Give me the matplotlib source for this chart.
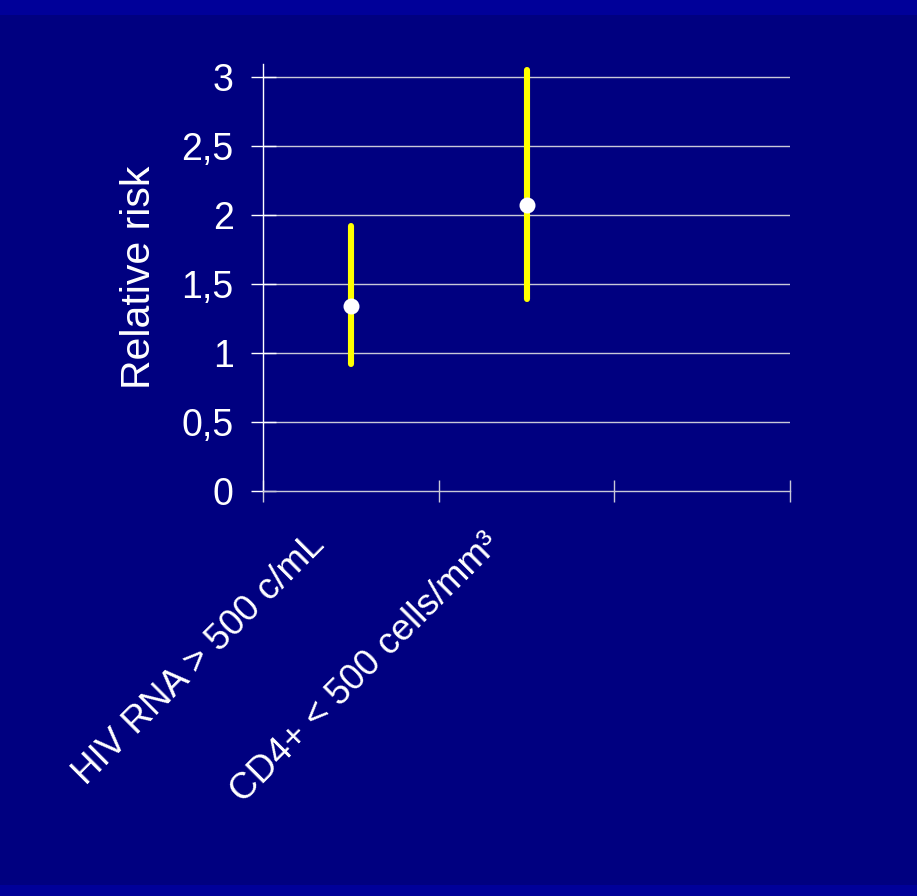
import matplotlib
matplotlib.use("Agg")
import matplotlib.pyplot as plt
from matplotlib.patches import Rectangle

# data
categories = ["HIV RNA > 500 c/mL", "CD4+ < 500 cells/mm³"]
cat_pos = [0.5, 1.5]
rr = [1.34, 2.07]
ci_low = [0.92, 1.39]
ci_high = [1.92, 3.05]
yticks = [0, 0.5, 1, 1.5, 2, 2.5, 3]
ytick_labels = ["0", "0,5", "1", "1,5", "2", "2,5", "3"]

plt.rcParams['font.family'] = ['Liberation Sans', 'DejaVu Sans']

bg = '#000080'
band = '#000099'
grid_c = '#c8c8d8'

fig = plt.figure(figsize=(9.17, 8.96), dpi=100, facecolor=bg)
# top and bottom bands of the slide
fig.patches.append(Rectangle((0, 1 - 15 / 896), 1, 15 / 896, transform=fig.transFigure,
                             facecolor=band, edgecolor='none', zorder=0))
fig.patches.append(Rectangle((0, 0), 1, 11 / 896, transform=fig.transFigure,
                             facecolor=band, edgecolor='none', zorder=0))

ax = fig.add_axes([263 / 917, 1 - 491 / 896, (790 - 263) / 917, (491 - 64) / 896])
ax.set_facecolor(bg)
ax.set_xlim(0, 3)
ax.set_ylim(0, 3 + 13 / 138)

for y in yticks[1:]:
    ax.axhline(y, color=grid_c, lw=1.0, zorder=1)

ax.vlines(cat_pos, ci_low, ci_high, colors='#ffff00', lw=4.4, capstyle='round', zorder=3)
ax.plot(cat_pos, rr, 'o', color='white', markersize=11.5, markeredgewidth=0, zorder=4)

for side in ['top', 'right']:
    ax.spines[side].set_visible(False)
ax.spines['left'].set_color('white')
ax.spines['left'].set_linewidth(1.0)
ax.spines['bottom'].set_color(grid_c)
ax.spines['bottom'].set_linewidth(1.0)

ax.set_yticks(yticks)
ax.set_yticklabels(ytick_labels)
ax.tick_params(axis='y', direction='inout', length=18, width=1, color='white',
               labelcolor='white', labelsize=27, pad=12)
ax.set_xticks([0, 1, 2, 3])
ax.set_xticklabels([])
ax.tick_params(axis='x', direction='inout', length=16, width=1, color=grid_c)

for x, lab in zip(cat_pos, categories):
    ax.annotate(lab, xy=(x, 0), xycoords='data', xytext=(-25, -55), textcoords='offset pixels',
                rotation=45, rotation_mode='anchor', ha='right', va='baseline',
                color='white', fontsize=26.5, annotation_clip=False)

ax.set_ylabel('Relative risk', color='white', fontsize=29.5, labelpad=17)

fig.savefig('out.png', dpi=100, facecolor=bg)
